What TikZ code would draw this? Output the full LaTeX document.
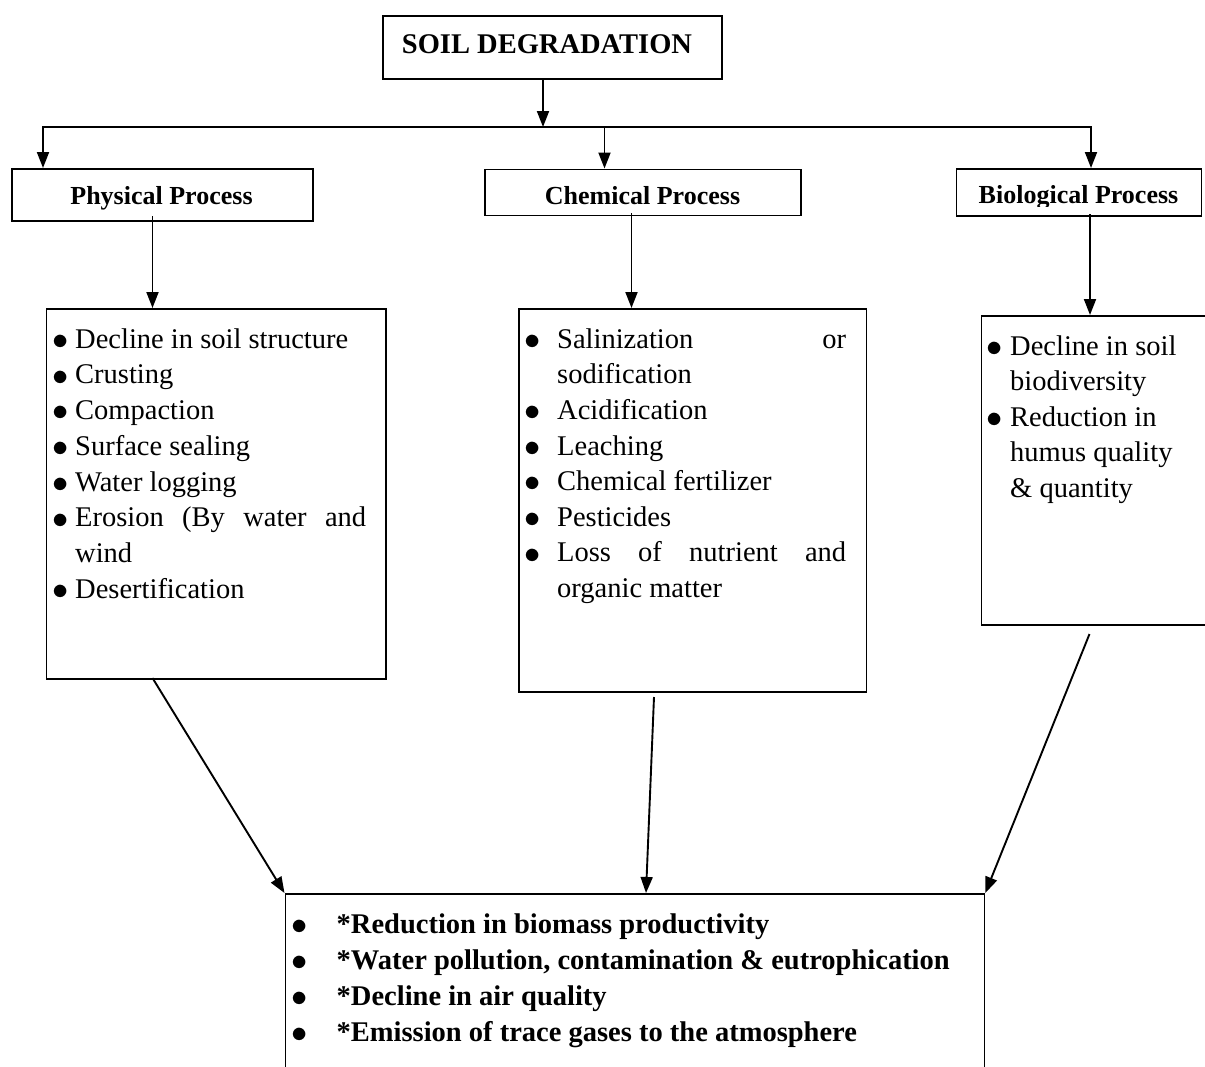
\documentclass[tikz,border=0pt]{standalone}
\usepackage{fontspec}
\usepackage{graphicx}
\setmainfont{Liberation Serif}
\usetikzlibrary{arrows.meta,calc}
\newcommand{\bul}[2]{\makebox[#1][l]{\raisebox{-1.2pt}{\scalebox{1.3}{$\bullet$}}}#2}
\begin{document}
\begin{tikzpicture}[x=1pt,y=-1pt,
  frame/.style={draw, line width=1.8pt, inner sep=0pt, anchor=north west},
  arr/.style={line width=1.9pt, -{Triangle[length=16pt,width=12pt]}},
  conn/.style={line width=1.9pt},
  listtext/.style={anchor=north west, inner sep=0pt, align=left},
  head/.style={anchor=base, inner sep=0pt, font=\fontsize{26}{30}\selectfont\bfseries}]
\useasboundingbox[fill=white] (0,0) rectangle (1205,1066);

% title
\node[frame, minimum width=339pt, minimum height=63pt] (title) at (382,15) {};
\node[head, font=\fontsize{28.5}{32}\selectfont\bfseries] (titletxt) at (547,53) {SOIL DEGRADATION};

% process boxes
\node[frame, minimum width=301pt, minimum height=52pt] (phys) at (11,168) {};
\node[head] (physttxt) at (161.5,204) {Physical Process};
\node[frame, minimum width=316pt, minimum height=46pt] (chem) at (484,168.5) {};
\node[head] (chemtxt) at (642.5,204) {Chemical Process};
\node[frame, minimum width=245pt, minimum height=47pt] (bio) at (955.5,168) {};
\begin{scope}
  \clip (950,160) rectangle (1205,206);
  \node[head] (biotxt) at (1078.5,203.5) {Biological Process};
\end{scope}

% content boxes
\node[frame, minimum width=339.5pt, minimum height=370pt] (physbox) at (45.5,308) {};
\node[listtext, font=\fontsize{28.5}{35.75}\selectfont] (physlist) at (52,318) {%
\rule{0pt}{30pt}\bul{23pt}{Decline in soil structure}\\
\bul{23pt}{Crusting}\\
\bul{23pt}{Compaction}\\
\bul{23pt}{Surface sealing}\\
\bul{23pt}{Water logging}\\
\bul{23pt}{\makebox[291pt][s]{Erosion (By water and}}\\
\hspace*{23pt}wind\\
\bul{23pt}{Desertification}};

\node[frame, minimum width=347.5pt, minimum height=383pt] (chembox) at (518,308) {};
\node[listtext, font=\fontsize{28.5}{35.6}\selectfont] (chemlist) at (524.5,318) {%
\rule{0pt}{30pt}\bul{32.5pt}{\makebox[289pt][s]{Salinization or}}\\
\hspace*{32.5pt}sodification\\
\bul{32.5pt}{Acidification}\\
\bul{32.5pt}{Leaching}\\
\bul{32.5pt}{Chemical fertilizer}\\
\bul{32.5pt}{Pesticides}\\
\bul{32.5pt}{\makebox[289pt][s]{Loss of nutrient and}}\\
\hspace*{32.5pt}organic matter};

\node[frame, minimum width=240pt, minimum height=309pt] (biobox) at (980.5,315) {};
\node[listtext, font=\fontsize{28.5}{35.5}\selectfont] (biolist) at (986.5,325) {%
\rule{0pt}{30pt}\bul{23.5pt}{Decline in soil}\\
\hspace*{23.5pt}biodiversity\\
\bul{23.5pt}{Reduction in}\\
\hspace*{23.5pt}humus quality\\
\hspace*{23.5pt}\& quantity};

% outcome box
\node[frame, minimum width=699pt, minimum height=200pt] (out) at (284.5,893) {};
\node[listtext, font=\fontsize{28.5}{36}\selectfont\bfseries] (outlist) at (291,903) {%
\rule{0pt}{30pt}\bul{45.5pt}{*Reduction in biomass productivity}\\
\bul{45.5pt}{*Water pollution, contamination \& eutrophication}\\
\bul{45.5pt}{*Decline in air quality}\\
\bul{45.5pt}{*Emission of trace gases to the atmosphere}};

% connectors top
\coordinate (j) at (543,127);
\coordinate (hl) at (43,127);
\coordinate (hm) at (604.5,127);
\coordinate (hr) at (1091,127);
\draw[arr] (title.south -| j) -- (j);
\draw[conn, line cap=rect] (hl) -- (hr);
\draw[arr] (hl) -- (hl |- phys.north);
\draw[arr] (hm) -- (hm |- chem.north);
\draw[arr] (hr) -- (hr |- bio.north);

% process to lists
\coordinate (pa) at (152.5,216);
\coordinate (ca) at (631.5,213);
\coordinate (ba) at (1090,214);
\draw[arr] (pa) -- (pa |- physbox.north);
\draw[arr] (ca) -- (ca |- chembox.north);
\draw[arr] (ba) -- (ba |- biobox.north);

% lists to outcome
\coordinate (d1) at (152.5,678);
\coordinate (d2) at (654,697);
\coordinate (d3) at (1089.5,634);
\draw[arr] (d1) -- (out.north west);
\draw[arr] (d2) -- ($(out.north west)+(361.5,0)$);
\draw[arr] (d3) -- (out.north east);
\end{tikzpicture}
\end{document}
